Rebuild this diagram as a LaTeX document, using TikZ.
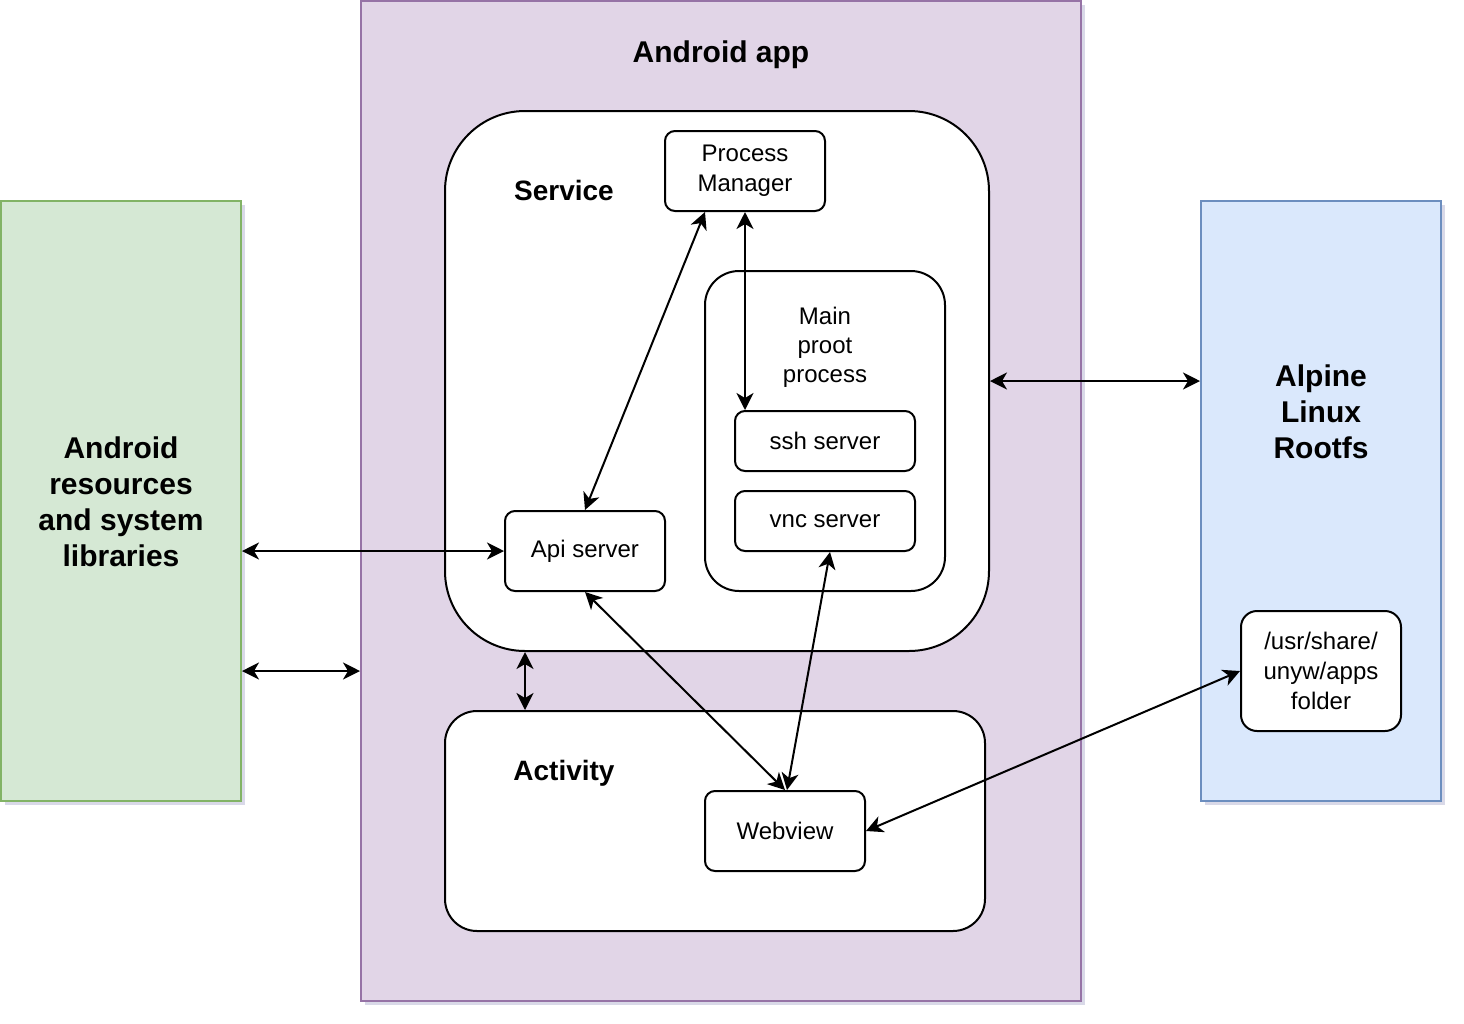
\documentclass[tikz,border=0pt]{standalone}
\usepackage{fontspec}
\setmainfont{Liberation Sans}
\usepackage{xcolor}
\usetikzlibrary{arrows.meta,shadows}
\definecolor{appfill}{HTML}{E1D5E7}
\definecolor{appline}{HTML}{9673A6}
\definecolor{hostfill}{HTML}{D5E8D4}
\definecolor{hostline}{HTML}{82B366}
\definecolor{rootfill}{HTML}{DAE8FC}
\definecolor{rootline}{HTML}{6C8EBF}
\tikzset{
  bigbox/.style={draw, line width=1pt, inner sep=0pt,
    drop shadow={opacity=0.15, shadow xshift=2pt, shadow yshift=-2pt, fill=black!60!blue}},
  partbox/.style={draw=black, fill=white, line width=1pt, inner sep=0pt},
  unitbox/.style={partbox, rounded corners=5pt, minimum width=80pt, minimum height=40pt,
    font=\fontsize{12pt}{15pt}\selectfont, align=center},
  headlbl/.style={font=\fontsize{14pt}{16.8pt}\selectfont\bfseries, inner sep=0pt},
  sidelbl/.style={font=\fontsize{15pt}{18pt}\selectfont\bfseries, align=center, inner sep=0pt},
  link/.style={line width=1pt, {Stealth[length=8.5pt, width=8.5pt, inset=2.5pt]}-{Stealth[length=8.5pt, width=8.5pt, inset=2.5pt]}},
}
\begin{document}
\begin{tikzpicture}[x=0.5pt, y=-0.5pt]
\useasboundingbox (0,0) rectangle (1464,1024);
\node[bigbox, fill=appfill, draw=appline, minimum width=360pt, minimum height=500pt] (app) at (721,501) {};
\node[bigbox, fill=hostfill, draw=hostline, minimum width=120pt, minimum height=300pt] (host) at (121,501) {};
\node[bigbox, fill=rootfill, draw=rootline, minimum width=120pt, minimum height=300pt] (root) at (1321,501) {};
\node[sidelbl] (applbl) at (721,55) {Android app};
\node[sidelbl] (hostlbl) at (121,502) {Android\\resources\\and system\\libraries};
\node[sidelbl] (rootlbl) at (1321,412) {Alpine\\Linux\\Rootfs};

\node[partbox, rounded corners=40pt, minimum width=272pt, minimum height=270pt] (service) at (717,381) {};
\node[headlbl] (servicelbl) at (564,190) {Service};
\node[partbox, rounded corners=17pt, minimum width=120pt, minimum height=160pt] (proot) at (825,431) {};
\node[align=center, font=\fontsize{12pt}{14.4pt}\selectfont, inner sep=0pt] (prootlbl) at (825,347) {Main\\proot\\process};
\node[unitbox] (pm) at (745,171) {Process\\Manager};
\node[unitbox, minimum width=90pt, minimum height=30pt] (ssh) at (825,441) {ssh server};
\node[unitbox, minimum width=90pt, minimum height=30pt] (vnc) at (825,521) {vnc server};
\node[unitbox] (api) at (585,551) {Api server};

\node[partbox, rounded corners=16pt, minimum width=270pt, minimum height=110pt] (activity) at (715,821) {};
\node[headlbl] (activitylbl) at (564,773) {Activity};
\node[unitbox] (web) at (785,831) {Webview};

\node[unitbox, rounded corners=8pt, minimum height=60pt] (folder) at (1321,671) {/usr/share/\\unyw/apps\\folder};

% connectors
\draw[link] (api.north) -- ([xshift=-20pt]pm.south);
\draw[link] (pm.south) -- ([xshift=-40pt]ssh.north);
\draw[link] (host.east |- api.west) -- (api.west);
\draw[link] ([yshift=-85pt]host.east) -- ([yshift=-85pt]app.west);
\draw[link] (service.east) -- (root.west |- service.east);
\draw[link] ([xshift=-96pt]service.south) -- ([xshift=-96pt]service.south |- activity.north);
\draw[link] (api.south) -- (web.north);
\draw[link] ([xshift=2.5pt]vnc.south) -- ([xshift=1pt]web.north);
\draw[link] (web.east) -- (folder.west);
\end{tikzpicture}
\end{document}
